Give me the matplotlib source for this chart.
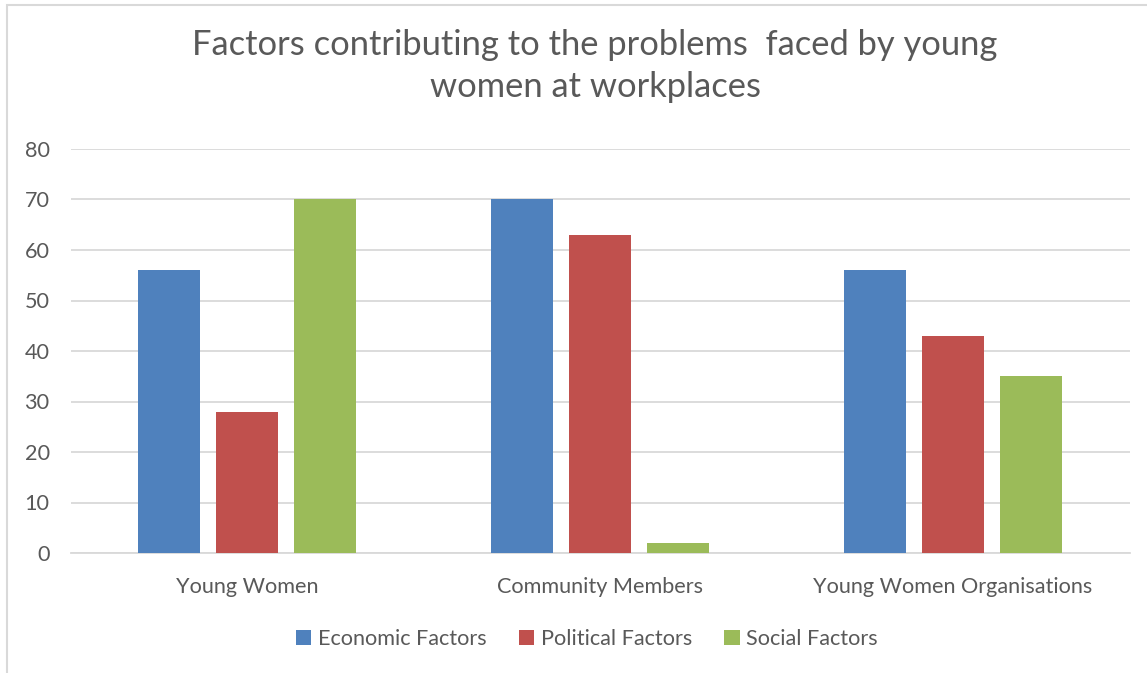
import numpy as np
import matplotlib.pyplot as plt
from matplotlib.patches import Rectangle

plt.rcParams['font.family'] = ['Lato', 'DejaVu Sans']

# Data
categories = ['Young Women', 'Community Members', 'Young Women Organisations']
series = ['Economic Factors', 'Political Factors', 'Social Factors']
economic = [56, 70, 56]
political = [28, 63, 43]
social = [70, 2, 35]
colors = ['#4F81BD', '#C0504D', '#9BBB59']

W, H = 1147, 673
fig = plt.figure(figsize=(W / 100, H / 100), dpi=100)

# chart border (right and bottom edges cut off)
fig.patches.append(Rectangle((7 / W, -0.1), 1.2, 1 - 5 / H + 0.1,
                             transform=fig.transFigure, fill=False,
                             edgecolor='#D9D9D9', linewidth=1.5))

ax = fig.add_axes([70.5 / W, 1 - 553 / H, (1129.5 - 70.5) / W, (553 - 149) / H])

x = np.arange(len(categories))
width = 62 / 353
step = 78 / 353
values = [economic, political, social]
for i, (name, vals) in enumerate(zip(series, values)):
    ax.bar(x + (i - 1) * step, vals, width, color=colors[i], label=name, zorder=3)

ax.set_xlim(-0.5, 2.5)
ax.set_ylim(0, 80)
ax.set_yticks(range(0, 81, 10))
ax.set_xticks(x)
ax.set_xticklabels(categories)
ax.grid(axis='y', color='#D9D9D9', linewidth=1.3, zorder=0)
for s in ['top', 'right', 'left']:
    ax.spines[s].set_visible(False)
ax.spines['bottom'].set_color('#D9D9D9')
ax.spines['bottom'].set_linewidth(1.3)
ax.tick_params(length=0, labelsize=15.6, colors='#595959')
ax.tick_params(axis='y', pad=15)
ax.tick_params(axis='x', pad=17)

fig.text(595 / W, 1 - 66 / H,
         'Factors contributing to the problems  faced by young\nwomen at workplaces',
         ha='center', va='center', fontsize=24.8, color='#595959', linespacing=1.4)

fig.legend(loc='center', bbox_to_anchor=(587 / W, 1 - 639 / H), ncol=3,
           frameon=False, fontsize=15.6, labelcolor='#595959',
           handlelength=0.7, handleheight=0.7, handletextpad=0.3, columnspacing=1.5)

fig.savefig('out.png', dpi=100)
